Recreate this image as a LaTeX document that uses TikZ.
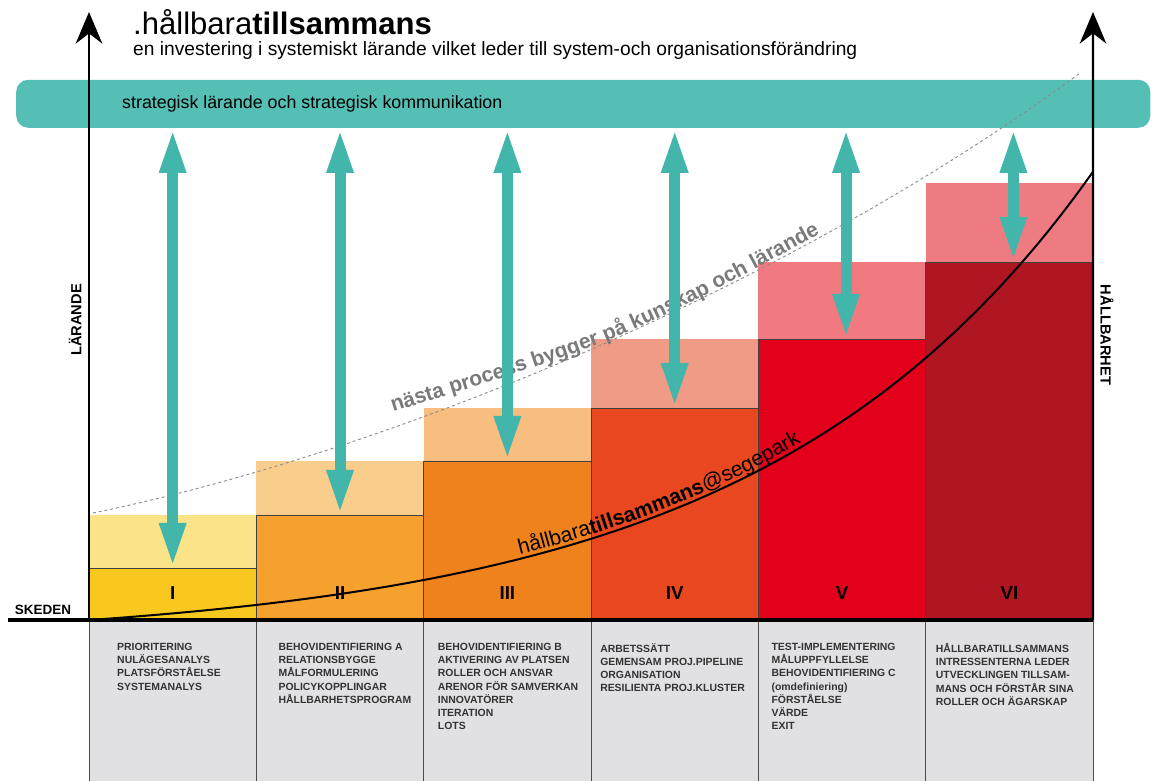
\documentclass[tikz,border=0pt]{standalone}
\usepackage{fontspec}
\setmainfont{Liberation Sans}
\usetikzlibrary{arrows.meta,positioning,decorations.text}

\definecolor{bandteal}{HTML}{56BFB5}
\definecolor{arrowteal}{HTML}{43B6AB}
\definecolor{morkI}{HTML}{F9C81E}
\definecolor{ljusI}{HTML}{FBE488}
\definecolor{morkII}{HTML}{F6A12E}
\definecolor{ljusII}{HTML}{F9CE8C}
\definecolor{morkIII}{HTML}{F0821E}
\definecolor{ljusIII}{HTML}{F7BE80}
\definecolor{morkIV}{HTML}{E8471F}
\definecolor{ljusIV}{HTML}{F09B86}
\definecolor{morkV}{HTML}{E2001A}
\definecolor{ljusV}{HTML}{F07A80}
\definecolor{morkVI}{HTML}{B01522}
\definecolor{ljusVI}{HTML}{EF7B82}
\definecolor{cellgray}{HTML}{E1E1E3}
\definecolor{celltextc}{HTML}{333333}
\definecolor{dotgray}{HTML}{8C8C8C}
\definecolor{procgray}{HTML}{7A7A7A}

\tikzset{
  ghostbox/.style={anchor=south west, minimum width=5.02cm, inner sep=0pt, outer sep=0pt, draw=none},
  barbox/.style={anchor=south west, minimum width=5.02cm, inner sep=0pt, outer sep=0pt, draw=black!75, line width=0.5pt},
  cellbox/.style={anchor=north west, minimum width=5.02cm, minimum height=5.1cm, inner sep=0pt, outer sep=0pt, fill=cellgray, draw=black!70, line width=0.8pt},
  celltext/.style={anchor=north west, inner sep=0pt, align=left, text=celltextc, font=\fontsize{8.9}{11.3}\selectfont\bfseries},
  numeral/.style={font=\fontsize{16}{16}\selectfont\bfseries, text=black},
  link/.style={{Triangle[length=1.35cm, width=0.72cm]}-{Triangle[length=1.35cm, width=0.72cm]}, line width=0.33cm, draw=arrowteal},
  axis/.style={-{Stealth[length=0.95cm, width=0.8cm]}, line width=2pt},
  axislabel/.style={font=\fontsize{12.5}{12.5}\selectfont\bfseries},
}

\begin{document}
\begin{tikzpicture}[x=0.03cm, y=0.03cm]
\useasboundingbox (0,0) rectangle (1153,780);

% titel och band
\node (title) [anchor=base west, inner sep=0pt] at (133,745) {\fontsize{26.5}{30}\selectfont .hållbara\textbf{tillsammans}};
\node (subtitle) [anchor=base west, inner sep=0pt] at (133,724) {\fontsize{16.4}{19}\selectfont en investering i systemiskt lärande vilket leder till system-och organisationsförändring};
\node (band) [anchor=south west, fill=bandteal, rounded corners=0.36cm, minimum width=34.02cm, minimum height=1.44cm, inner sep=0pt] at (16,652) {};
\node (bandtext) [anchor=west, inner sep=0pt, font=\fontsize{15.2}{17}\selectfont] at ([xshift=3.18cm]band.west) {strategisk lärande och strategisk kommunikation};

% staplar
\node (ghostI) [ghostbox, fill=ljusI, minimum height=3.15cm] at (89,160) {};
\node (barI) [barbox, fill=morkI, minimum height=1.56cm] at (89,160) {};
\node (ghostII) [ghostbox, fill=ljusII, minimum height=4.77cm] at (barI.south east) {};
\node (barII) [barbox, fill=morkII, minimum height=3.15cm] at (barI.south east) {};
\node (ghostIII) [ghostbox, fill=ljusIII, minimum height=6.36cm] at (barII.south east) {};
\node (barIII) [barbox, fill=morkIII, minimum height=4.77cm] at (barII.south east) {};
\node (ghostIV) [ghostbox, fill=ljusIV, minimum height=8.43cm] at (barIII.south east) {};
\node (barIV) [barbox, fill=morkIV, minimum height=6.36cm] at (barIII.south east) {};
\node (ghostV) [ghostbox, fill=ljusV, minimum height=10.74cm] at (barIV.south east) {};
\node (barV) [barbox, fill=morkV, minimum height=8.43cm] at (barIV.south east) {};
\node (ghostVI) [ghostbox, fill=ljusVI, minimum height=13.11cm] at (barV.south east) {};
\node (barVI) [barbox, fill=morkVI, minimum height=10.74cm] at (barV.south east) {};

% tabell
\node (cellI) [cellbox] at (barI.south west) {};
\node (cellII) [cellbox] at (barII.south west) {};
\node (cellIII) [cellbox] at (barIII.south west) {};
\node (cellIV) [cellbox] at (barIV.south west) {};
\node (cellV) [cellbox] at (barV.south west) {};
\node (cellVI) [cellbox] at (barVI.south west) {};

\node (textI) [celltext] at ([xshift=0.84cm, yshift=-0.69cm]cellI.north west) {PRIORITERING\\NULÄGESANALYS\\PLATSFÖRSTÅELSE\\SYSTEMANALYS};
\node (textII) [celltext] at ([xshift=0.66cm, yshift=-0.69cm]cellII.north west) {BEHOVIDENTIFIERING A\\RELATIONSBYGGE\\MÅLFORMULERING\\POLICYKOPPLINGAR\\HÅLLBARHETSPROGRAM};
\node (textIII) [celltext] at ([xshift=0.42cm, yshift=-0.69cm]cellIII.north west) {BEHOVIDENTIFIERING B\\AKTIVERING AV PLATSEN\\ROLLER OCH ANSVAR\\ARENOR FÖR SAMVERKAN\\INNOVATÖRER\\ITERATION\\LOTS};
\node (textIV) [celltext] at ([xshift=0.27cm, yshift=-0.69cm]cellIV.north west) {ARBETSSÄTT\\GEMENSAM PROJ.PIPELINE\\ORGANISATION\\RESILIENTA PROJ.KLUSTER};
\node (textV) [celltext] at ([xshift=0.39cm, yshift=-0.69cm]cellV.north west) {TEST-IMPLEMENTERING\\MÅLUPPFYLLELSE\\BEHOVIDENTIFIERING C\\(omdefiniering)\\FÖRSTÅELSE\\VÄRDE\\EXIT};
\node (textVI) [celltext] at ([xshift=0.3cm, yshift=-0.69cm]cellVI.north west) {HÅLLBARATILLSAMMANS\\INTRESSENTERNA LEDER\\UTVECKLINGEN TILLSAM-\\MANS OCH FÖRSTÅR SINA\\ROLLER OCH ÄGARSKAP};

% kurvor
\draw[dotgray, line width=0.8pt, dash pattern=on 2.5pt off 2.5pt] (93,267) .. controls (400,330) and (800,500) .. (1080,707);
\path[decorate, decoration={text along path, text color=procgray,
  text={|\fontsize{18}{18}\selectfont\bfseries|nästa process bygger på kunskap och lärande}}]
  (393,368) .. controls (625,440) .. (845,560);
\draw[line width=1.7pt] plot[domain=89:1093, samples=90, smooth] (\x, {160+23.05*(exp(0.003*(\x-89))-1)});
\path[decorate, decoration={text along path, text align={left indent=13.1cm}, raise=0.12cm,
  text={|\fontsize{18}{18}\selectfont|hållbara|\fontsize{18}{18}\selectfont\bfseries|tillsammans|\fontsize{18}{18}\selectfont\mdseries|@segepark}}]
  plot[domain=89:1093, samples=90] (\x, {160+23.05*(exp(0.003*(\x-89))-1)});

% pilar
\draw[link] (barI.north |- band.south) -- (barI.north);
\draw[link] (barII.north |- band.south) -- (barII.north);
\draw[link] (barIII.north |- band.south) -- (barIII.north);
\draw[link] (barIV.north |- band.south) -- (barIV.north);
\draw[link] ([xshift=0.12cm]barV.north |- band.south) -- ([xshift=0.12cm]barV.north);
\draw[link] ([xshift=0.12cm]barVI.north |- band.south) -- ([xshift=0.12cm]barVI.north);

\node (numI) [numeral] at ([yshift=0.81cm]barI.south) {I};
\node (numII) [numeral] at ([yshift=0.81cm]barII.south) {II};
\node (numIII) [numeral] at ([yshift=0.81cm]barIII.south) {III};
\node (numIV) [numeral] at ([yshift=0.81cm]barIV.south) {IV};
\node (numV) [numeral] at ([yshift=0.81cm]barV.south) {V};
\node (numVI) [numeral] at ([yshift=0.81cm]barVI.south) {VI};

% axlar
\coordinate (origin) at (89,160);
\coordinate (ltop) at (89,768);
\coordinate (rtop) at (1093,768);
\coordinate (skedestart) at (8,160);
\draw[axis] (origin) -- (ltop);
\draw[axis] (barVI.south east) -- (rtop);
\draw[line width=3pt] (skedestart) -- (barVI.south east);

\node (larande) [axislabel, rotate=90] at (75,460) {LÄRANDE};
\node (hallbarhet) [axislabel, rotate=-90] at (1107,445) {HÅLLBARHET};
\node (skeden) [axislabel, font=\fontsize{11.5}{11.5}\selectfont\bfseries] at (43,170) {SKEDEN};
\end{tikzpicture}
\end{document}
